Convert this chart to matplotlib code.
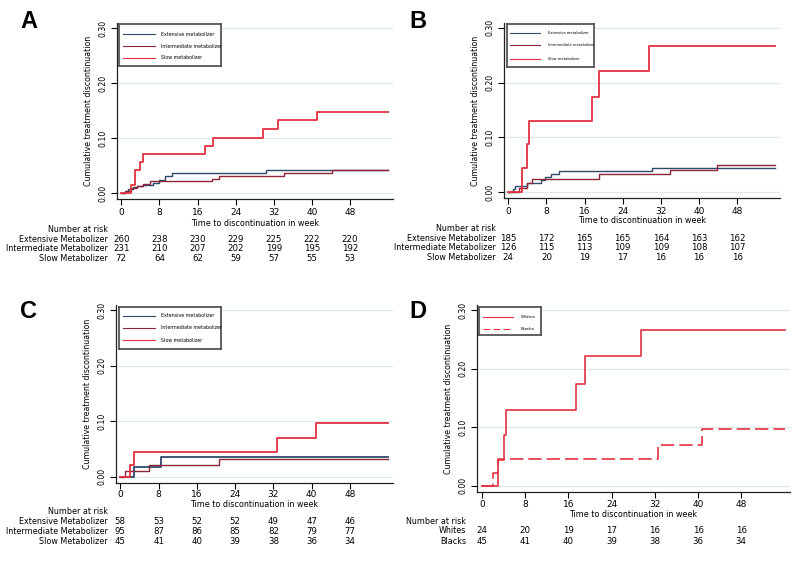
import numpy as np
import matplotlib.pyplot as plt
from matplotlib.transforms import blended_transform_factory

plt.rcParams['font.family'] = ['DejaVu Sans']

W, H = 800, 567
weeks = [0, 8, 16, 24, 32, 40, 48]
end_week = 56

# panel A
a_ext_t = [0.7, 1.4, 2.5, 3.4, 4.6, 6.7, 8.0, 9.2, 10.6, 30.3]
a_ext_v = [0.004, 0.008, 0.011, 0.013, 0.015, 0.019, 0.024, 0.031, 0.036, 0.041]
a_int_t = [1.0, 2.0, 3.2, 4.5, 6.0, 19.0, 20.5, 34.2, 44.1]
a_int_v = [0.004, 0.009, 0.013, 0.017, 0.022, 0.026, 0.031, 0.036, 0.041]
a_slow_t = [2.0, 2.9, 4.0, 4.5, 17.6, 19.3, 29.8, 32.9, 41.0]
a_slow_v = [0.014, 0.042, 0.056, 0.071, 0.086, 0.100, 0.117, 0.132, 0.148]
a_risk = [260, 238, 230, 229, 225, 222, 220], [231, 210, 207, 202, 199, 195, 192], [72, 64, 62, 59, 57, 55, 53]

# panel B
b_ext_t = [0.9, 1.4, 3.9, 6.9, 7.7, 9.0, 10.6, 30.2]
b_ext_v = [0.005, 0.011, 0.016, 0.022, 0.027, 0.032, 0.038, 0.044]
b_int_t = [2.3, 4.0, 4.9, 19.0, 34.0, 43.8]
b_int_v = [0.008, 0.016, 0.024, 0.032, 0.041, 0.050]
b_slow_t = [2.9, 4.0, 4.4, 17.5, 19.1, 29.5]
b_slow_v = [0.043, 0.087, 0.130, 0.174, 0.222, 0.267]
b_risk = [185, 172, 165, 165, 164, 163, 162], [126, 115, 113, 109, 109, 108, 107], [24, 20, 19, 17, 16, 16, 16]

# panel C
c_ext_t = [2.8, 8.5]
c_ext_v = [0.018, 0.036]
c_int_t = [1.0, 6.1, 20.6]
c_int_v = [0.011, 0.021, 0.032]
c_slow_t = [2.0, 2.9, 32.8, 41.0]
c_slow_v = [0.022, 0.045, 0.070, 0.097]
c_risk = [58, 53, 52, 52, 49, 47, 46], [95, 87, 86, 85, 82, 79, 77], [45, 41, 40, 39, 38, 36, 34]

# panel D
d_white_t = [2.9, 4.1, 4.5, 17.4, 19.1, 29.5]
d_white_v = [0.043, 0.087, 0.130, 0.174, 0.222, 0.267]
d_black_t = [2.0, 2.9, 32.6, 40.8]
d_black_v = [0.022, 0.045, 0.070, 0.097]
d_risk = [24, 20, 19, 17, 16, 16, 16], [45, 41, 40, 39, 38, 36, 34]

metab_labels = ['Extensive metabolizer', 'Intermediate metabolizer', 'Slow metabolizer']
metab_rows = ['Extensive Metabolizer', 'Intermediate Metabolizer', 'Slow Metabolizer']
race_labels = ['Whites', 'Blacks']

c_ext, c_int, c_slow = '#2f4b6c', '#8e2437', '#e2323f'
grid_c = '#dde9ec'


def px(x, y):
    return x / W, 1 - y / H


def setup(rect, xpad=2.5):
    ax = fig.add_axes(rect)
    ax.set_xlim(-0.9, 57)
    ax.set_ylim(-0.011, 0.309)
    for s in ['top', 'right']:
        ax.spines[s].set_visible(False)
    for s in ['left', 'bottom']:
        ax.spines[s].set_color('#222222')
        ax.spines[s].set_linewidth(0.9)
    ax.set_xticks(weeks)
    ax.set_yticks([0, 0.1, 0.2, 0.3])
    ax.set_yticklabels(['0.00', '0.10', '0.20', '0.30'], rotation=90, va='center')
    ax.tick_params(axis='x', length=4, width=0.8, pad=xpad, labelsize=6.5)
    ax.tick_params(axis='y', length=4, width=0.8, pad=3, labelsize=5.6)
    for g in [0, 0.1, 0.2, 0.3]:
        ax.axhline(g, color=grid_c, lw=0.9, zorder=0)
    ax.set_ylabel('Cumulative treatment discontinuation', fontsize=5.7, labelpad=4)
    return ax


def curve(ax, t, v, color, lw=1.0, ls='-'):
    ax.step(np.r_[0, t, end_week], np.r_[0, v, v[-1]], where='post',
            color=color, lw=lw, ls=ls)


def key(ax, bounds, labels, styles, fs, x0, x1, xt, ys):
    k = ax.inset_axes(bounds)
    k.set_xlim(0, 1)
    k.set_ylim(0, 1)
    k.set_xticks([])
    k.set_yticks([])
    for s in k.spines.values():
        s.set_color('#555555')
        s.set_linewidth(1.3)
    for lab, (col, ls), y in zip(labels, styles, ys):
        k.plot([x0, x1], [y, y], color=col, lw=0.8, ls=ls)
        k.text(xt, y, lab, fontsize=fs, va='center', ha='left')


def table(ax, xlab_y, nar_y, rows_y, label_x, names, risk):
    tr = blended_transform_factory(ax.transAxes, fig.transFigure)
    ax.text(0.5, 1 - xlab_y / H, 'Time to discontinuation in week',
            transform=tr, ha='center', va='center', fontsize=5.8)
    fig.text(label_x / W, 1 - nar_y / H, 'Number at risk', ha='right',
             va='center', fontsize=5.8)
    trd = blended_transform_factory(ax.transData, fig.transFigure)
    for name, nums, y in zip(names, risk, rows_y):
        fig.text(label_x / W, 1 - y / H, name, ha='right', va='center', fontsize=5.8)
        for wk, n in zip(weeks, nums):
            ax.text(wk, 1 - y / H, str(n), transform=trd, ha='center',
                    va='center', fontsize=6.2)


fig = plt.figure(figsize=(8, 5.67), dpi=100)

metab_styles = [(c_ext, '-'), (c_int, '-'), (c_slow, '-')]

# A
ax_a = setup([117 / W, 1 - 199 / H, 276 / W, 176 / H])
curve(ax_a, a_ext_t, a_ext_v, c_ext)
curve(ax_a, a_int_t, a_int_v, c_int)
curve(ax_a, a_slow_t, a_slow_v, c_slow, lw=1.3)
key(ax_a, [0.007, 0.756, 0.37, 0.238], metab_labels, metab_styles, 3.4,
    0.04, 0.35, 0.41, [0.76, 0.475, 0.19])
table(ax_a, 223, 230, [239, 249, 258.7], 108, metab_rows, a_risk)

# B
ax_b = setup([504 / W, 1 - 198 / H, 276 / W, 175 / H])
curve(ax_b, b_ext_t, b_ext_v, c_ext)
curve(ax_b, b_int_t, b_int_v, c_int)
curve(ax_b, b_slow_t, b_slow_v, c_slow, lw=1.3)
key(ax_b, [0.011, 0.749, 0.315, 0.246], metab_labels, metab_styles, 2.6,
    0.035, 0.38, 0.47, [0.79, 0.51, 0.19])
table(ax_b, 221, 229, [238.7, 248, 258], 496, metab_rows, b_risk)

# C
ax_c = setup([116 / W, 1 - 483 / H, 277 / W, 178 / H], xpad=0.8)
curve(ax_c, c_ext_t, c_ext_v, c_ext, lw=1.3)
curve(ax_c, c_int_t, c_int_v, c_int)
curve(ax_c, c_slow_t, c_slow_v, c_slow, lw=1.3)
key(ax_c, [0.011, 0.753, 0.368, 0.236], metab_labels, metab_styles, 3.4,
    0.04, 0.35, 0.41, [0.79, 0.5, 0.21])
table(ax_c, 504.5, 511, [521.7, 531.3, 541.7], 108, metab_rows, c_risk)

# D
ax_d = setup([477 / W, 1 - 492 / H, 313 / W, 187 / H], xpad=1.5)
curve(ax_d, d_white_t, d_white_v, c_slow, lw=1.2)
curve(ax_d, d_black_t, d_black_v, c_slow, lw=1.2, ls=(0, (8, 3)))
key(ax_d, [0.006, 0.84, 0.198, 0.15], race_labels,
    [(c_slow, '-'), (c_slow, (0, (6, 3)))], 3.2, 0.065, 0.55, 0.68, [0.65, 0.21])
table(ax_d, 514.8, 521, [530.7, 541], 466, race_labels, d_risk)

for letter, (x, y) in zip('ABCD', [(29, 22), (418, 21), (28, 311), (418, 311)]):
    fx, fy = px(x, y)
    fig.text(fx, fy, letter, fontsize=17, fontweight='bold', ha='center',
             va='center', family=['Liberation Sans', 'DejaVu Sans'])

fig.savefig('out.png', dpi=100)
